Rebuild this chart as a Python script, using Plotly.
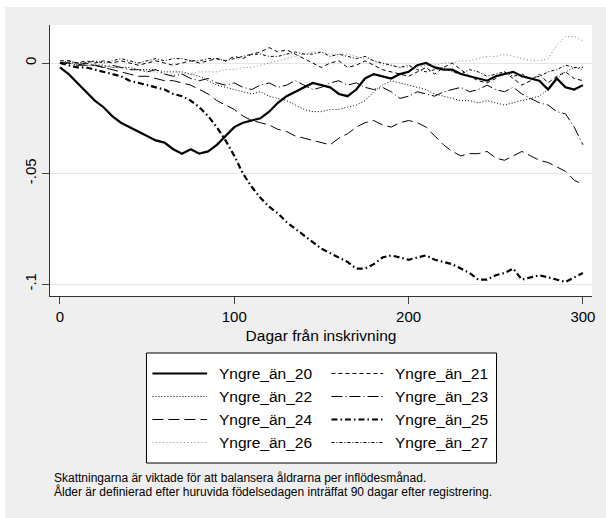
import plotly.graph_objects as go

days = [0, 5, 10, 15, 20, 25, 30, 35, 40, 45, 50, 55, 60, 65, 70, 75, 80, 85, 90, 95,
        100, 105, 110, 115, 120, 125, 130, 135, 140, 145, 150, 155, 160, 165, 170, 175,
        180, 185, 190, 195, 200, 205, 210, 215, 220, 225, 230, 235, 240, 245, 250, 255,
        260, 265, 270, 275, 280, 285, 290, 295, 300]

y20 = [-0.002, -0.005, -0.009, -0.013, -0.017, -0.020, -0.024, -0.027, -0.029, -0.031,
       -0.033, -0.035, -0.036, -0.039, -0.041, -0.039, -0.041, -0.040, -0.037, -0.033,
       -0.029, -0.027, -0.026, -0.025, -0.022, -0.018, -0.015, -0.013, -0.011, -0.009,
       -0.010, -0.011, -0.014, -0.015, -0.012, -0.007, -0.005, -0.006, -0.007, -0.005,
       -0.004, -0.001, 0.000, -0.002, -0.003, -0.003, -0.005, -0.006, -0.007, -0.008,
       -0.006, -0.005, -0.004, -0.006, -0.007, -0.008, -0.012, -0.007, -0.011, -0.012,
       -0.010]

y21 = [0.001, 0.001, 0.000, 0.001, 0.000, 0.001, 0.000, 0.001, 0.000, -0.001,
       0.000, 0.001, 0.000, -0.001, 0.000, 0.001, 0.000, 0.001, 0.002, 0.001,
       0.003, 0.002, 0.004, 0.005, 0.007, 0.005, 0.006, 0.004, 0.002, 0.000,
       -0.002, 0.000, 0.001, -0.002, -0.001, 0.001, -0.001, -0.003, -0.004, -0.005,
       -0.006, -0.004, -0.002, -0.005, -0.002, 0.000, -0.003, -0.006, -0.008, -0.009,
       -0.007, -0.004, -0.007, -0.010, -0.008, -0.005, -0.009, -0.006, -0.004, -0.007,
       -0.008]

y22 = [0.000, 0.000, 0.000, -0.001, -0.001, -0.001, -0.002, -0.002, -0.002, -0.003,
       -0.003, -0.003, -0.004, -0.004, -0.004, -0.005, -0.006, -0.008, -0.010, -0.011,
       -0.012, -0.013, -0.014, -0.013, -0.015, -0.016, -0.017, -0.019, -0.021, -0.022,
       -0.022, -0.021, -0.021, -0.020, -0.019, -0.017, -0.013, -0.010, -0.008, -0.009,
       -0.010, -0.011, -0.012, -0.014, -0.015, -0.016, -0.017, -0.017, -0.018, -0.017,
       -0.018, -0.019, -0.018, -0.017, -0.016, -0.015, -0.012, -0.007, -0.004, -0.002,
       -0.003]

y23 = [0.000, 0.000, -0.001, 0.000, -0.001, -0.002, -0.001, -0.002, -0.003, -0.003,
       -0.004, -0.003, -0.005, -0.006, -0.005, -0.007, -0.008, -0.007, -0.009, -0.010,
       -0.009, -0.011, -0.012, -0.010, -0.009, -0.011, -0.010, -0.008, -0.010, -0.012,
       -0.011, -0.009, -0.008, -0.010, -0.009, -0.011, -0.012, -0.011, -0.013, -0.016,
       -0.015, -0.013, -0.014, -0.015, -0.013, -0.012, -0.011, -0.013, -0.012, -0.010,
       -0.012, -0.013, -0.011, -0.014, -0.016, -0.018, -0.019, -0.022, -0.023, -0.029,
       -0.037]

y24 = [0.000, 0.000, -0.001, -0.001, -0.001, -0.002, -0.003, -0.004, -0.005, -0.006,
       -0.006, -0.007, -0.008, -0.008, -0.009, -0.010, -0.012, -0.014, -0.017, -0.019,
       -0.021, -0.024, -0.026, -0.027, -0.028, -0.030, -0.031, -0.033, -0.034, -0.035,
       -0.036, -0.037, -0.034, -0.032, -0.029, -0.027, -0.026, -0.028, -0.029, -0.027,
       -0.026, -0.027, -0.029, -0.033, -0.037, -0.040, -0.042, -0.041, -0.041, -0.040,
       -0.043, -0.044, -0.042, -0.040, -0.042, -0.044, -0.045, -0.047, -0.049, -0.053,
       -0.055]

y25 = [0.000, -0.001, -0.002, -0.002, -0.003, -0.004, -0.005, -0.006, -0.008, -0.009,
       -0.010, -0.011, -0.012, -0.014, -0.015, -0.017, -0.020, -0.024, -0.029, -0.035,
       -0.042, -0.050, -0.056, -0.061, -0.065, -0.068, -0.072, -0.075, -0.078, -0.081,
       -0.084, -0.086, -0.088, -0.090, -0.093, -0.093, -0.091, -0.088, -0.087, -0.088,
       -0.089, -0.088, -0.087, -0.089, -0.090, -0.091, -0.093, -0.095, -0.098, -0.098,
       -0.096, -0.095, -0.093, -0.098, -0.097, -0.096, -0.097, -0.098, -0.099, -0.097,
       -0.095]

y26 = [0.000, 0.000, 0.000, -0.001, -0.001, -0.001, -0.002, -0.002, -0.003, -0.003,
       -0.004, -0.004, -0.005, -0.005, -0.005, -0.005, -0.004, -0.004, -0.004, -0.003,
       -0.003, -0.002, -0.002, -0.001, 0.000, 0.001, 0.002, 0.003, 0.004, 0.005,
       0.005, 0.004, 0.004, 0.004, 0.003, 0.002, 0.001, -0.001, -0.001, -0.002,
       -0.002, -0.002, -0.001, -0.001, 0.000, 0.000, 0.001, 0.001, 0.002, 0.003,
       0.003, 0.004, 0.003, 0.002, 0.001, 0.001, 0.002, 0.008, 0.012, 0.012,
       0.010]

y27 = [0.000, 0.001, 0.000, 0.000, 0.001, 0.000, 0.001, 0.002, 0.001, 0.000,
       0.001, 0.002, 0.001, 0.002, 0.002, 0.001, 0.001, 0.002, 0.002, 0.001,
       0.002, 0.003, 0.004, 0.004, 0.003, 0.003, 0.004, 0.005, 0.004, 0.004,
       0.005, 0.003, 0.004, 0.003, 0.002, 0.003, 0.001, 0.000, -0.001, -0.002,
       -0.001, -0.003, -0.004, -0.003, -0.002, -0.004, -0.005, -0.003, -0.004, -0.006,
       -0.005, -0.004, -0.006, -0.005, -0.007, -0.006, -0.004, -0.003, -0.001, -0.002,
       -0.002]

series_names = ["Yngre_än_20", "Yngre_än_21", "Yngre_än_22", "Yngre_än_23",
                "Yngre_än_24", "Yngre_än_25", "Yngre_än_26", "Yngre_än_27"]
series_values = [y20, y21, y22, y23, y24, y25, y26, y27]

x_ticks = [0, 100, 200, 300]
y_ticks = [0, -0.05, -0.1]
y_ticktext = ["0", "-.05", "-.1"]

x_title = "Dagar från inskrivning"
notes = ["Skattningarna är viktade för att balansera åldrarna per inflödesmånad.",
         "Ålder är definierad efter huruvida födelsedagen inträffat 90 dagar efter registrering."]

# styles (not data)
styles = [
    dict(color="black", width=2.2, dash="solid"),
    dict(color="black", width=1, dash="4px,3px"),
    dict(color="black", width=1, dash="1px,2px"),
    dict(color="black", width=1, dash="11px,3px,1px,3px"),
    dict(color="black", width=1, dash="11px,5px"),
    dict(color="black", width=2.2, dash="6px,3px,1.5px,3px"),
    dict(color="#666666", width=0.8, dash="1px,2.5px"),
    dict(color="black", width=1, dash="3px,2px,1px,2px"),
]

FONT = "Liberation Sans, Arial, Helvetica, sans-serif"
W, H = 606, 518
L, R, T, B = 50, 595, 25, 296


def px(xp):
    return (xp - L) / (R - L)


def py(yp):
    return (B - yp) / (B - T)


fig = go.Figure()
for name, vals, st in zip(series_names, series_values, styles):
    fig.add_trace(go.Scatter(x=days, y=vals, mode="lines", name=name,
                             line=st, showlegend=False, hoverinfo="skip"))

shapes = []
annotations = []

# white strips outside the grey frame (top and left)
shapes.append(dict(type="rect", xref="paper", yref="paper",
                   x0=px(-5), x1=px(5), y0=py(530), y1=py(-5),
                   fillcolor="white", line=dict(width=0), layer="above"))
shapes.append(dict(type="rect", xref="paper", yref="paper",
                   x0=px(-5), x1=px(620), y0=py(7), y1=py(-5),
                   fillcolor="white", line=dict(width=0), layer="above"))

# legend box
shapes.append(dict(type="rect", xref="paper", yref="paper",
                   x0=px(147), x1=px(499), y0=py(463), y1=py(353),
                   fillcolor="white", line=dict(color="black", width=1), layer="above"))
rows = [373.5, 396.5, 419.5, 442.5]
cols = [(153, 208, 218), (333, 385, 395)]
for i, (name, st) in enumerate(zip(series_names, styles)):
    r = i // 2
    c = i % 2
    sx0, sx1, tx = cols[c]
    yy = rows[r]
    shapes.append(dict(type="line", xref="paper", yref="paper",
                       x0=px(sx0), x1=px(sx1), y0=py(yy), y1=py(yy),
                       line=st, layer="above"))
    annotations.append(dict(xref="paper", yref="paper", x=px(tx), y=py(yy),
                            text=name, showarrow=False, xanchor="left", yanchor="middle",
                            font=dict(family=FONT, size=15.5, color="black")))

for k, (txt, yy) in enumerate(zip(notes, [478, 491])):
    annotations.append(dict(xref="paper", yref="paper", x=px(52), y=py(yy),
                            text=txt, showarrow=False, xanchor="left", yanchor="middle",
                            font=dict(family=FONT, size=12, color="black")))

fig.update_layout(
    width=W, height=H,
    margin=dict(l=L, r=W - R, t=T, b=H - B, pad=0),
    paper_bgcolor="#efefef",
    plot_bgcolor="white",
    font=dict(family=FONT, size=15, color="black"),
    shapes=shapes,
    annotations=annotations,
    showlegend=False,
    hovermode=False,
    xaxis=dict(range=[-5.7, 305.2], tickvals=x_ticks, ticks="outside", ticklen=7,
               tickcolor="#444444", tickwidth=1, showline=True, linecolor="#333333",
               linewidth=1, showgrid=False, zeroline=False,
               tickfont=dict(family=FONT, size=15, color="black"),
               title=dict(text=x_title, standoff=6,
                          font=dict(family=FONT, size=15.5, color="black"))),
    yaxis=dict(range=[-0.1054, 0.0172], tickvals=y_ticks, ticktext=y_ticktext,
               tickangle=-90, ticks="outside", ticklen=7, tickcolor="#444444",
               tickwidth=1, showline=True, linecolor="#333333", linewidth=1,
               showgrid=True, gridcolor="#e6e6e6", gridwidth=1, zeroline=False,
               tickfont=dict(family=FONT, size=15, color="black")),
)

fig.write_html("out.html",
               config={"displayModeBar": False},
               post_script="document.body.style.margin='0';document.body.style.overflow='hidden';")
